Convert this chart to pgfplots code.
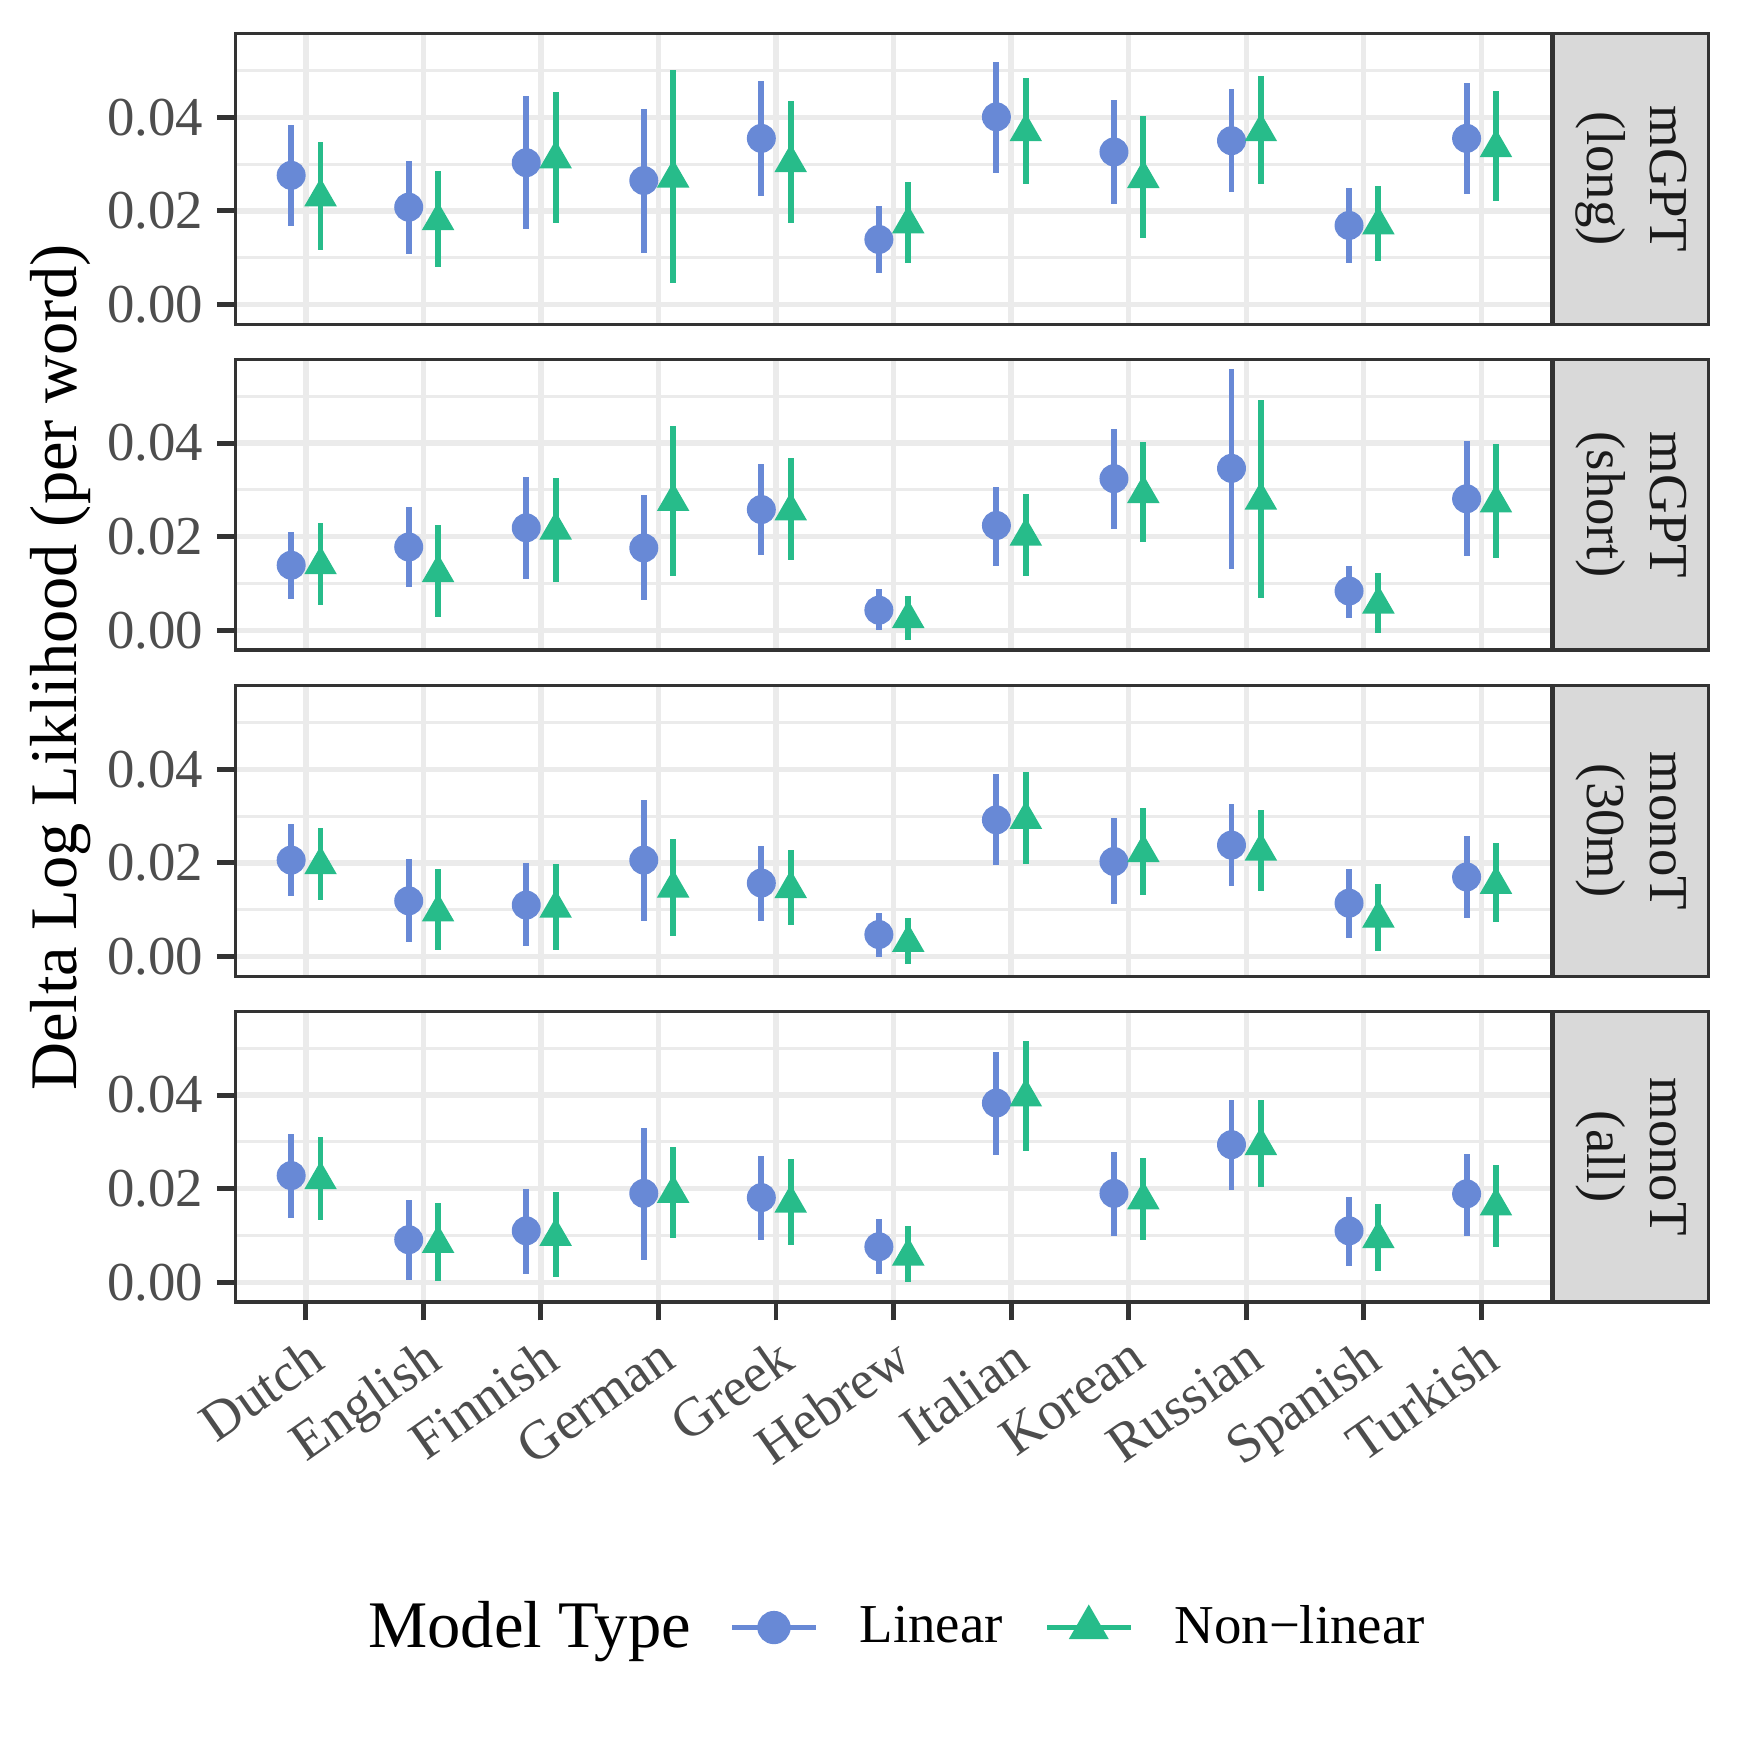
\documentclass[border=0pt]{standalone}
\usepackage{fontspec}
\setmainfont{Liberation Serif}
\usepackage{pgfplots}
\pgfplotsset{compat=1.18}
\usepackage{pgfplotstable}

\definecolor{linc}{RGB}{104,137,214}
\definecolor{nonc}{RGB}{39,188,138}
\definecolor{gridc}{RGB}{235,235,235}
\definecolor{bordc}{RGB}{51,51,51}
\definecolor{tickc}{RGB}{77,77,77}
\definecolor{stripc}{RGB}{217,217,217}
\definecolor{stript}{RGB}{26,26,26}

% x = language index, l = linear, n = non-linear, lo/hi = interval ends
\pgfplotstableread{
x ly llo lhi ny nlo nhi
0 0.0276 0.0167 0.0384 0.0230 0.0117 0.0348
1 0.0208 0.0108 0.0306 0.0179 0.0081 0.0286
2 0.0303 0.0162 0.0446 0.0311 0.0174 0.0453
3 0.0265 0.0110 0.0417 0.0270 0.0045 0.0501
4 0.0355 0.0231 0.0478 0.0303 0.0174 0.0435
5 0.0139 0.0067 0.0210 0.0172 0.0089 0.0262
6 0.0401 0.0282 0.0518 0.0369 0.0257 0.0484
7 0.0326 0.0214 0.0436 0.0269 0.0142 0.0403
8 0.0350 0.0241 0.0461 0.0369 0.0258 0.0489
9 0.0169 0.0089 0.0248 0.0170 0.0092 0.0253
10 0.0355 0.0236 0.0473 0.0335 0.0222 0.0456
}\mgptlong

\pgfplotstableread{
x ly llo lhi ny nlo nhi
0 0.0139 0.0067 0.0210 0.0140 0.0055 0.0230
1 0.0178 0.0093 0.0263 0.0123 0.0029 0.0224
2 0.0219 0.0109 0.0328 0.0214 0.0104 0.0326
3 0.0176 0.0064 0.0289 0.0275 0.0117 0.0437
4 0.0258 0.0161 0.0355 0.0255 0.0150 0.0368
5 0.0043 0.0001 0.0088 0.0025 -0.0021 0.0074
6 0.0224 0.0138 0.0306 0.0201 0.0117 0.0292
7 0.0324 0.0216 0.0430 0.0292 0.0188 0.0403
8 0.0346 0.0130 0.0559 0.0278 0.0068 0.0493
9 0.0084 0.0027 0.0138 0.0056 -0.0005 0.0122
10 0.0281 0.0159 0.0404 0.0272 0.0154 0.0397
}\mgptshort

\pgfplotstableread{
x ly llo lhi ny nlo nhi
0 0.0206 0.0130 0.0284 0.0196 0.0120 0.0275
1 0.0119 0.0031 0.0208 0.0095 0.0014 0.0186
2 0.0110 0.0022 0.0199 0.0103 0.0015 0.0197
3 0.0206 0.0075 0.0335 0.0146 0.0044 0.0252
4 0.0157 0.0076 0.0237 0.0145 0.0067 0.0227
5 0.0047 -0.0002 0.0094 0.0030 -0.0016 0.0082
6 0.0292 0.0195 0.0390 0.0293 0.0198 0.0395
7 0.0203 0.0112 0.0295 0.0222 0.0131 0.0317
8 0.0238 0.0150 0.0325 0.0225 0.0141 0.0312
9 0.0114 0.0039 0.0188 0.0082 0.0012 0.0156
10 0.0170 0.0083 0.0257 0.0154 0.0074 0.0242
}\monothirty

\pgfplotstableread{
x ly llo lhi ny nlo nhi
0 0.0228 0.0138 0.0316 0.0219 0.0133 0.0311
1 0.0091 0.0005 0.0176 0.0083 0.0002 0.0169
2 0.0110 0.0018 0.0199 0.0098 0.0011 0.0193
3 0.0190 0.0048 0.0329 0.0190 0.0094 0.0290
4 0.0181 0.0090 0.0270 0.0169 0.0079 0.0263
5 0.0076 0.0017 0.0135 0.0056 0.0000 0.0120
6 0.0383 0.0272 0.0491 0.0396 0.0281 0.0516
7 0.0190 0.0099 0.0279 0.0176 0.0090 0.0266
8 0.0294 0.0198 0.0389 0.0292 0.0203 0.0389
9 0.0110 0.0035 0.0182 0.0093 0.0025 0.0167
10 0.0189 0.0098 0.0275 0.0163 0.0075 0.0251
}\monoall

\pgfplotsset{
  panel/.style={
    scale only axis, width=118.2mm, height=26.1mm,
    anchor=south west,
    xmin=-0.6, xmax=10.6, ymin=-0.0042, ymax=0.0579,
    xtick={0,...,10}, ytick={0,0.02,0.04}, minor ytick={0.01,0.03,0.05},
    xmajorgrids, ymajorgrids, yminorgrids,
    major grid style={line width=1.35pt, gridc},
    minor grid style={line width=0.8pt, gridc},
    axis line style={line width=0.85pt, bordc},
    tick align=outside, xtick pos=bottom, ytick pos=left,
    major tick length=1.65mm, minor tick length=0pt,
    tick style={line width=1.25pt, bordc},
    scaled y ticks=false,
    yticklabel style={font=\fontsize{14}{16}\selectfont, text=tickc,
      /pgf/number format/.cd, fixed, fixed zerofill, precision=2, assume math mode=true},
    clip=false,
  },
  lin/.style={only marks, mark=*, mark size=3.5pt, color=linc,
    mark options={draw=none, fill=linc},
    legend image code/.code={
      \draw[sharp plot, line width=1.5pt, mark repeat=2, mark phase=2]
        plot coordinates {(0mm,0mm) (3.75mm,0mm) (7.5mm,0mm)};},
    error bars/.cd, y dir=both, y explicit, error mark=none,
    error bar style={line width=1.5pt, linc}},
  non/.style={only marks, mark=triangle*, mark size=4.4pt, color=nonc,
    mark options={draw=none, fill=nonc},
    legend image code/.code={
      \draw[sharp plot, line width=1.5pt, mark repeat=2, mark phase=2]
        plot coordinates {(0mm,0mm) (3.75mm,0mm) (7.5mm,0mm)};},
    error bars/.cd, y dir=both, y explicit, error mark=none,
    error bar style={line width=1.5pt, nonc}},
}

\newcommand{\bothseries}[1]{%
  \addplot[lin] table[x expr=\thisrow{x}-0.125, y=ly,
    y error plus expr=\thisrow{lhi}-\thisrow{ly},
    y error minus expr=\thisrow{ly}-\thisrow{llo}] {#1};
  \addplot[non] table[x expr=\thisrow{x}+0.125, y=ny,
    y error plus expr=\thisrow{nhi}-\thisrow{ny},
    y error minus expr=\thisrow{ny}-\thisrow{nlo}] {#1};
}

\newcommand{\strip}[3]{% bottom, top (mm), text
  \draw[fill=stripc, draw=bordc, line width=0.8pt]
    (139.45mm,-#1mm) rectangle (153.4mm,-#2mm);
  \node[rotate=-90, align=center, text=stript, inner sep=0pt,
    font=\fontsize{14}{16}\selectfont]
    at (146.45mm,{-(#1+#2)/2*1mm}) {#3};
}

\begin{document}
\begin{tikzpicture}
\useasboundingbox (0,0) rectangle (156.5mm,-156.5mm);

\begin{axis}[panel, at={(21.13mm,-29.11mm)}, xticklabels={}, xtick style={draw=none}]
  \bothseries{\mgptlong}
\end{axis}
\strip{29.11}{3.01}{mGPT\\(long)}

\begin{axis}[panel, at={(21.13mm,-58.36mm)}, xticklabels={}, xtick style={draw=none}]
  \bothseries{\mgptshort}
\end{axis}
\strip{58.36}{32.26}{mGPT\\(short)}

\begin{axis}[panel, at={(21.13mm,-87.65mm)}, xticklabels={}, xtick style={draw=none}]
  \bothseries{\monothirty}
\end{axis}
\strip{87.65}{61.55}{monoT\\(30m)}

\begin{axis}[panel, at={(21.13mm,-116.90mm)},
  xticklabels={Dutch,English,Finnish,German,Greek,Hebrew,Italian,Korean,Russian,Spanish,Turkish},
  xticklabel style={rotate=35, anchor=north east, inner sep=0pt,
    xshift=-0.8mm, yshift=-1.0mm,
    font=\fontsize{14}{16}\selectfont, text=tickc},
  legend columns=2,
  legend style={at={(axis description cs:0.3746,-1.12)}, anchor=west,
    draw=none, fill=none, inner sep=0pt,
    font=\fontsize{14}{16}\selectfont,
    nodes={inner sep=0pt},
    /tikz/every odd column/.append style={column sep=3.7mm},
    /tikz/every even column/.append style={column sep=3.7mm}},
]
  \bothseries{\monoall}
  \addlegendentry{Linear}
  \addlegendentry{Non−linear}
\end{axis}
\strip{116.90}{90.80}{monoT\\(all)}

\node[rotate=90, font=\fontsize{17}{20}\selectfont] at (5.4mm,-59.95mm)
  {Delta Log Liklihood (per word)};
\node[anchor=base west, inner sep=0pt, font=\fontsize{17}{20}\selectfont]
  at (33.0mm,-147.9mm) {Model Type};
\end{tikzpicture}
\end{document}
